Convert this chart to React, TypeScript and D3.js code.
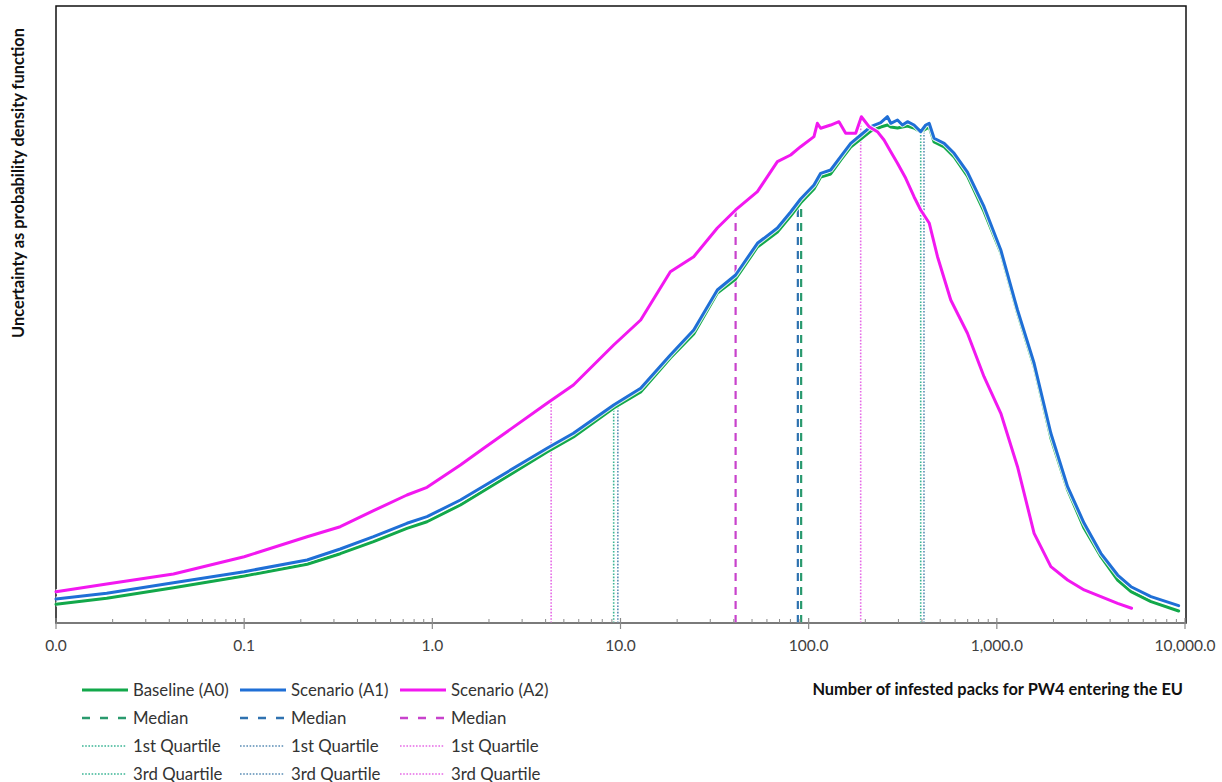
import React from 'react';
import * as d3 from 'd3';

// ---------- data ----------
const xTicks = [0.01, 0.1, 1, 10, 100, 1000, 10000];

const a0X = [0.01, 0.0186, 0.0421, 0.1, 0.216, 0.324, 0.487, 0.733, 0.937, 1.41,
  4.07, 5.62, 9.2, 12.8, 18.4, 24.5, 32.7, 40.9, 53.4, 68.2,
  80.2, 90.6, 106.7, 115.8, 130.9, 147.9, 167.2, 189.2, 213.8, 241.5,
  262.2, 273.1, 296.5, 315, 335, 363, 394, 419, 437, 464,
  525, 593, 698, 855, 1050, 1288, 1578, 1937, 2377, 2911,
  3573, 4385, 5164, 6594, 9250];
const a0Y = [3.04, 4.01, 5.73, 7.63, 9.53, 11.25, 13.2, 15.37, 16.44, 19.16,
  27.76, 30.19, 34.9, 37.5, 43.02, 46.92, 53.57, 55.84, 61.04, 63.47,
  66.07, 68.18, 70.45, 72.4, 72.89, 75.16, 77.27, 78.57, 79.87, 80.52,
  80.84, 80.52, 80.36, 80.52, 80.68, 80.36, 79.71, 80.19, 80.52, 78.08,
  77.27, 75.65, 72.56, 66.77, 60.06, 50.32, 41.61, 30.03, 21.59, 15.37,
  10.76, 6.98, 5.08, 3.46, 1.95];

const a1X = a0X;
const a1Y = [3.9, 4.82, 6.54, 8.33, 10.23, 12.01, 14.01, 16.19, 17.26, 19.97,
  28.36, 30.8, 35.39, 38.1, 43.51, 47.56, 54.06, 56.49, 61.64, 64.12,
  66.72, 68.83, 71.1, 73.0, 73.54, 75.7, 77.87, 79.22, 80.57, 81.22,
  82.19, 81.12, 81.66, 80.84, 81.38, 80.84, 79.76, 80.84, 81.12, 78.69,
  77.87, 76.25, 73.21, 67.58, 60.55, 50.81, 42.16, 30.8, 22.13, 16.19,
  11.31, 7.79, 5.89, 4.27, 2.81];

const a2X = [0.01, 0.0186, 0.0421, 0.1, 0.216, 0.324, 0.487, 0.733, 0.937, 1.41,
  1.875, 4.07, 5.62, 9.2, 12.8, 18.4, 24.5, 32.7, 40.9, 53.4,
  68.2, 80.2, 90.6, 106.7, 111.2, 115.8, 130.9, 144.9, 157.3, 177.8,
  190.6, 209.4, 231.9, 251.5, 273.1, 296.5, 328, 363, 394, 437,
  484, 569, 698, 855, 1050, 1288, 1578, 1937, 2377, 2911,
  3573, 4385, 5200];
const a2Y = [5.08, 6.33, 7.95, 10.76, 14.01, 15.63, 18.23, 20.78, 22.03, 25.65,
  28.36, 35.67, 38.64, 45.13, 49.19, 57.03, 59.46, 64.12, 67.05, 70.02,
  74.89, 75.97, 77.32, 78.95, 81.12, 80.31, 80.84, 81.38, 79.5, 79.5,
  82.19, 80.57, 79.76, 78.41, 76.51, 74.63, 72.19, 69.2, 67.05, 64.94,
  59.46, 52.44, 47.03, 39.98, 34.04, 25.37, 14.56, 9.14, 6.98, 5.36,
  4.27, 3.2, 2.39];

const seriesNames = ['Baseline (A0)', 'Scenario (A1)', 'Scenario (A2)'];
const seriesColors = ['#12a84a', '#1f6fd6', '#f218f0'];
const medianColors = ['#2a9a6e', '#2f72b0', '#c842cc'];
const quartileColors = ['#3bb595', '#5a8db5', '#e66ae6'];
const medians = [91.2, 87.6, 40.9];
const quartile1 = [9.2, 9.68, 4.28];
const quartile3 = [394, 410, 189];

const xTitle = 'Number of infested packs for PW4 entering the EU';
const yTitle = 'Uncertainty as probability density function';

const FONT = 'Lato, "Open Sans", sans-serif';

export default function App() {
  const x = d3.scaleLog().domain([0.01, 10000]).range([56, 1185]);
  const y = d3.scaleLinear().domain([0, 100]).range([623, 7]);
  const line = d3.line<[number, number]>().x(d => x(d[0])).y(d => y(d[1]));

  const series = [
    { xs: a0X, ys: a0Y },
    { xs: a1X, ys: a1Y },
    { xs: a2X, ys: a2Y },
  ];

  const valueAt = (xs: number[], ys: number[], v: number) => {
    const lv = Math.log10(v);
    for (let i = 0; i < xs.length - 1; i++) {
      const l0 = Math.log10(xs[i]), l1 = Math.log10(xs[i + 1]);
      if (lv >= l0 && lv <= l1) {
        const t = (lv - l0) / (l1 - l0);
        return ys[i] + t * (ys[i + 1] - ys[i]);
      }
    }
    return 0;
  };

  const minorTicks: number[] = [];
  for (let i = 0; i < xTicks.length - 1; i++) {
    for (let k = 2; k <= 9; k++) minorTicks.push(xTicks[i] * k);
  }
  const fmt = d3.format(',.1f');

  const legendCols = [82, 240, 400];
  const legendRows = [690, 718, 746, 774];
  const legendLabels = ['', 'Median', '1st Quartile', '3rd Quartile'];

  const vlines: { v: number; color: string; kind: 'median' | 'q'; s: number }[] = [];
  [0, 1, 2].forEach(s => {
    vlines.push({ v: quartile1[s], color: quartileColors[s], kind: 'q', s });
    vlines.push({ v: quartile3[s], color: quartileColors[s], kind: 'q', s });
    vlines.push({ v: medians[s], color: medianColors[s], kind: 'median', s });
  });

  return (
    <svg width={1222} height={782} style={{ position: 'absolute', left: 0, top: 0, background: '#fff' }}
      fontFamily={FONT}>
      <rect x={0} y={0} width={1222} height={782} fill="#fff" />
      {/* frame */}
      <rect x={56} y={6} width={1130} height={617} fill="none" stroke="#111" strokeWidth={1.5} />

      {/* vertical median / quartile lines */}
      {vlines.map((l, i) => {
        const s = series[l.s];
        const top = valueAt(s.xs, s.ys, l.v);
        return (
          <line key={'v' + i} x1={x(l.v)} x2={x(l.v)} y1={y(0)} y2={y(top)}
            stroke={l.color}
            strokeWidth={l.kind === 'median' ? 2.2 : 1.6}
            strokeDasharray={l.kind === 'median' ? '8,6' : '1.6,1.6'} />
        );
      })}

      {/* curves */}
      {series.map((s, i) => {
        const pts = s.xs.map((v, j) => [v, s.ys[j]] as [number, number]);
        const d = line(pts) || '';
        return (
          <g key={'c' + i}>
            <path d={d} fill="none" stroke="#fff" strokeOpacity={0.85} strokeWidth={5} strokeLinejoin="round" />
            <path d={d} fill="none" stroke={seriesColors[i]} strokeWidth={3} strokeLinejoin="round" strokeLinecap="round" />
          </g>
        );
      })}

      {/* x axis */}
      <line x1={56} x2={1186} y1={623} y2={623} stroke="#8a8a8a" strokeWidth={1.3} />
      {minorTicks.map((t, i) => (
        <line key={'m' + i} x1={x(t)} x2={x(t)} y1={619} y2={623} stroke="#8a8a8a" strokeWidth={1} />
      ))}
      {xTicks.map((t, i) => (
        <g key={'t' + i}>
          <line x1={x(t)} x2={x(t)} y1={618} y2={629} stroke="#8a8a8a" strokeWidth={1.2} />
          <text x={x(t)} y={651} textAnchor="middle" fontSize={15.5} fill="#404040">{fmt(t)}</text>
        </g>
      ))}

      {/* axis titles */}
      <text x={1183} y={695} textAnchor="end" fontSize={16.4} fontWeight="bold" fill="#111">{xTitle}</text>
      <text transform="translate(24,183) rotate(-90)" textAnchor="middle" fontSize={16.4} fontWeight="bold" fill="#111">{yTitle}</text>

      {/* legend */}
      {[0, 1, 2].map(s => (
        <g key={'lg' + s}>
          {legendRows.map((ry, r) => {
            const lx = legendCols[s];
            const label = r === 0 ? seriesNames[s] : legendLabels[r];
            let mark;
            if (r === 0) {
              mark = <line x1={lx} x2={lx + 46} y1={ry} y2={ry} stroke={seriesColors[s]} strokeWidth={3} />;
            } else if (r === 1) {
              mark = <line x1={lx} x2={lx + 44} y1={ry} y2={ry} stroke={medianColors[s]} strokeWidth={2.5} strokeDasharray="8,10" />;
            } else {
              mark = <line x1={lx} x2={lx + 44} y1={ry} y2={ry} stroke={quartileColors[s]} strokeWidth={1.6} strokeDasharray="1.6,1.6" />;
            }
            return (
              <g key={'lr' + r}>
                {mark}
                <text x={lx + 51} y={ry + 5.5} fontSize={16.8} fill="#333">{label}</text>
              </g>
            );
          })}
        </g>
      ))}
    </svg>
  );
}
